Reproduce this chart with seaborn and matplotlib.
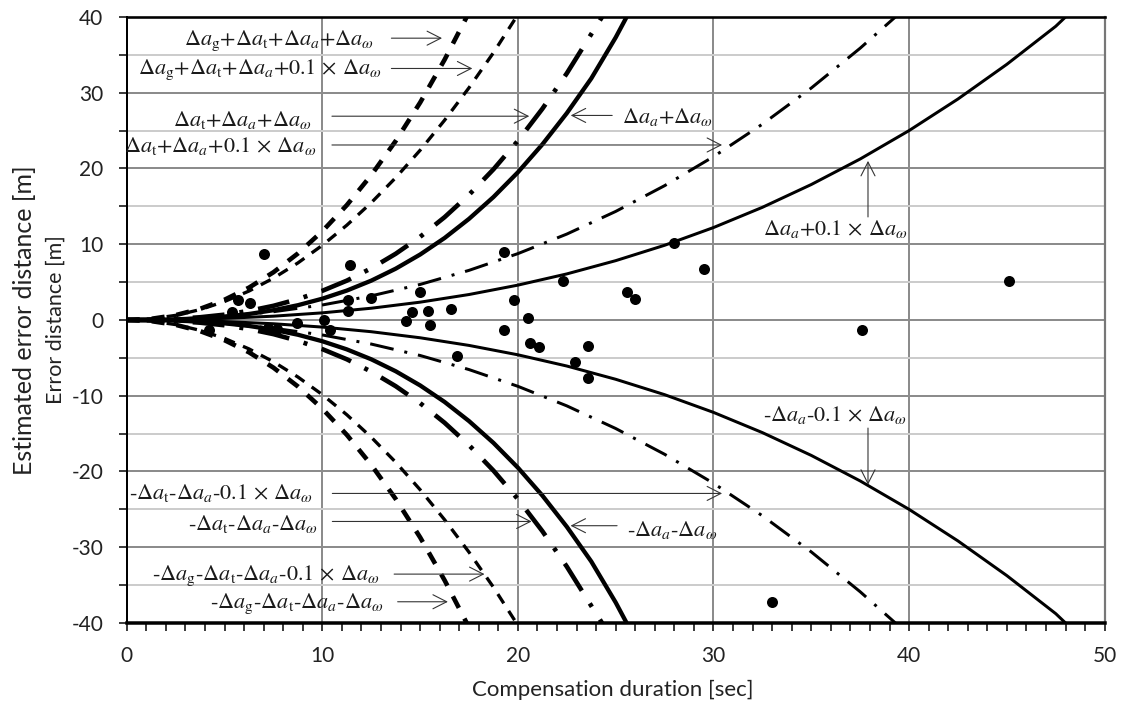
import matplotlib
matplotlib.use("Agg")
import matplotlib.pyplot as plt
import seaborn as sns
import pandas as pd
from matplotlib.ticker import MultipleLocator

# ---------------- data ----------------
# measured error distances: (duration [s], error [m])
meas_x = [4.2, 5.4, 5.7, 6.3, 7.0, 7.2, 7.7, 8.7, 10.1, 10.4, 11.3, 11.3, 11.4,
          12.5, 14.3, 14.6, 15.0, 15.4, 15.5, 16.6, 16.9, 19.3, 19.3, 19.8, 20.5,
          20.6, 21.1, 22.3, 22.9, 23.6, 23.6, 25.6, 26.0, 28.0, 29.5, 33.0, 37.6, 45.1]
meas_y = [-1.3, 1.0, 2.6, 2.3, 8.7, -1.1, -1.2, -0.4, 0.0, -1.3, 2.6, 1.2, 7.2,
          2.9, -0.1, 1.1, 3.7, 1.2, -0.7, 1.4, -4.7, 9.0, -1.3, 2.6, 0.2,
          -3.0, -3.6, 5.1, -5.5, -3.4, -7.7, 3.7, 2.8, 10.2, 6.7, -37.2, -1.3, 5.2]

# estimated error envelopes, upper branch
# Δag+Δat+Δaa+Δaω
gtaw_x = [0, 1.25, 2.5, 3.75, 5, 6.25, 7.5, 8.75, 10, 11.25, 12.5, 13.75, 15, 16.25, 17.38]
gtaw_y = [0, 0.15, 0.64, 1.47, 2.67, 4.27, 6.30, 8.78, 11.72, 15.16, 19.12, 23.63,
          28.70, 34.36, 40.0]
# Δag+Δat+Δaa+0.1Δaω
gta01w_x = [0, 1.25, 2.5, 3.75, 5, 6.25, 7.5, 8.75, 10, 11.25, 12.5, 13.75, 15,
            16.25, 17.5, 18.75, 19.92]
gta01w_y = [0, 0.15, 0.61, 1.37, 2.44, 3.82, 5.52, 7.53, 9.86, 12.51, 15.48, 18.78,
            22.41, 26.37, 30.66, 35.29, 40.0]
# Δat+Δaa+Δaω
taw_x = [0, 1.25, 2.5, 3.75, 5, 6.25, 7.5, 8.75, 10, 11.25, 12.5, 13.75, 15, 16.25,
         17.5, 18.75, 20, 21.25, 22.5, 23.75, 24.3]
taw_y = [0, 0.03, 0.14, 0.36, 0.70, 1.20, 1.87, 2.75, 3.85, 5.19, 6.82, 8.74, 10.98,
         13.57, 16.53, 19.89, 23.66, 27.88, 32.56, 37.74, 40.0]
# Δaa+Δaω
aw_x = [0, 1.25, 2.5, 3.75, 5, 6.25, 7.5, 8.75, 10, 11.25, 12.5, 13.75, 15, 16.25,
        17.5, 18.75, 20, 21.25, 22.5, 23.75, 25, 25.6]
aw_y = [0, 0.02, 0.08, 0.21, 0.44, 0.79, 1.29, 1.95, 2.81, 3.88, 5.19, 6.77, 8.64,
        10.82, 13.35, 16.23, 19.5, 23.18, 27.3, 31.88, 37.3, 40.2]
# Δat+Δaa+0.1Δaω
ta01w_x = [0, 2.5, 5, 7.5, 10, 12.5, 15, 17.5, 20, 22.5, 25, 27.5, 30, 32.5,
           35, 37.5, 39.3]
ta01w_y = [0, 0.11, 0.47, 1.09, 1.98, 3.18, 4.69, 6.55, 8.76, 11.34, 14.33,
           17.73, 21.56, 25.85, 30.62, 35.88, 40.0]
# Δaa+0.1Δaω
a01w_x = [0, 2.5, 5, 7.5, 10, 12.5, 15, 17.5, 20, 22.5, 25, 27.5, 30, 32.5,
          35, 37.5, 40, 42.5, 45, 47.5, 48.0]
a01w_y = [0, 0.05, 0.21, 0.50, 0.94, 1.55, 2.35, 3.36, 4.60, 6.08, 7.83, 9.86,
          12.2, 14.87, 17.88, 21.25, 25.0, 29.17, 33.75, 38.77, 40.0]

# lower branch (same durations)
gtaw_lo = [0, -0.15, -0.64, -1.47, -2.67, -4.27, -6.30, -8.78, -11.72, -15.16,
           -19.12, -23.63, -28.70, -34.36, -40.0]
gta01w_lo = [0, -0.15, -0.61, -1.37, -2.44, -3.82, -5.52, -7.53, -9.86, -12.51,
             -15.48, -18.78, -22.41, -26.37, -30.66, -35.29, -40.0]
taw_lo = [0, -0.03, -0.14, -0.36, -0.70, -1.20, -1.87, -2.75, -3.85, -5.19, -6.82,
          -8.74, -10.98, -13.57, -16.53, -19.89, -23.66, -27.88, -32.56, -37.74, -40.0]
aw_lo = [0, -0.02, -0.08, -0.21, -0.44, -0.79, -1.29, -1.95, -2.81, -3.88, -5.19,
         -6.77, -8.64, -10.82, -13.35, -16.23, -19.5, -23.18, -27.3, -31.88, -37.3, -40.2]
ta01w_lo = [0, -0.11, -0.47, -1.09, -1.98, -3.18, -4.69, -6.55, -8.76, -11.34,
            -14.33, -17.73, -21.56, -25.85, -30.62, -35.88, -40.0]
a01w_lo = [0, -0.05, -0.21, -0.50, -0.94, -1.55, -2.35, -3.36, -4.60, -6.08,
           -7.83, -9.86, -12.2, -14.87, -17.88, -21.25, -25.0, -29.17, -33.75,
           -38.77, -40.0]

x_ticks = [0, 10, 20, 30, 40, 50]
y_ticks = [-40, -30, -20, -10, 0, 10, 20, 30, 40]

# ---------------- style ----------------
sns.set_theme(style="white")
plt.rcParams["font.family"] = ["Lato", "DejaVu Sans"]
plt.rcParams["mathtext.fontset"] = "stix"
plt.rcParams["lines.scale_dashes"] = False
plt.rcParams["axes.unicode_minus"] = False

PX = 0.72  # points per pixel at dpi 100

fig = plt.figure(figsize=(11.21, 7.04), dpi=100)
ax = fig.add_axes([0.1131, 0.1151, 0.8723, 0.8608])

styles = {
    "thick_dash": dict(lw=4.6 * PX, linestyle=(0, (13 * PX, 12 * PX)), dash_capstyle="butt"),
    "thin_dash": dict(lw=3.3 * PX, linestyle=(0, (11 * PX, 9 * PX)), dash_capstyle="butt"),
    "thick_dashdot": dict(lw=4.6 * PX, linestyle=(0, (32 * PX, 15 * PX, 4 * PX, 15 * PX)),
                          dash_capstyle="butt"),
    "thin_dashdot": dict(lw=3.0 * PX, linestyle=(0, (24 * PX, 11 * PX, 3 * PX, 11 * PX)),
                         dash_capstyle="butt"),
    "thick_solid": dict(lw=4.3 * PX, linestyle="-"),
    "thin_solid": dict(lw=3.0 * PX, linestyle="-"),
}

curves = [
    (gtaw_x, gtaw_y, gtaw_lo, "thick_dash"),
    (gta01w_x, gta01w_y, gta01w_lo, "thin_dash"),
    (taw_x, taw_y, taw_lo, "thick_dashdot"),
    (aw_x, aw_y, aw_lo, "thick_solid"),
    (ta01w_x, ta01w_y, ta01w_lo, "thin_dashdot"),
    (a01w_x, a01w_y, a01w_lo, "thin_solid"),
]
for xs, yu, yl, st in curves:
    for ys in (yu, yl):
        df = pd.DataFrame({"t": xs, "e": ys})
        sns.lineplot(data=df, x="t", y="e", ax=ax, color="black", legend=False,
                     estimator=None, sort=False, zorder=3, **styles[st])

sns.scatterplot(x=meas_x, y=meas_y, ax=ax, color="black", s=63, linewidth=0,
                zorder=4, legend=False)

# ---------------- axes ----------------
ax.set_xlim(0, 50)
ax.set_ylim(-40, 40)
ax.set_xticks(x_ticks)
ax.set_yticks(y_ticks)
ax.xaxis.set_minor_locator(MultipleLocator(1))
ax.yaxis.set_minor_locator(MultipleLocator(5))
ax.set_axisbelow(True)
ax.xaxis.grid(True, which="major", color="#8c8c8c", lw=2 * PX)
ax.yaxis.grid(True, which="major", color="#8c8c8c", lw=2 * PX)
ax.yaxis.grid(True, which="minor", color="#cccccc", lw=2 * PX)
ax.tick_params(axis="both", which="both", direction="out", length=8 * PX,
               width=1.5 * PX, color="black", bottom=True, left=True)
ax.tick_params(axis="both", which="major", labelsize=15, pad=11, labelcolor="#222222")
ax.set_xlabel("")
ax.set_ylabel("")

for side, lw, col in (("bottom", 3.5, "black"), ("top", 2.6, "black"),
                      ("left", 2.0, "black"), ("right", 2.2, "#777777")):
    ax.spines[side].set_visible(True)
    ax.spines[side].set_linewidth(lw * PX)
    ax.spines[side].set_color(col)
    ax.spines[side].set_zorder(5)

fig.text(25 / 1121, 1 - 320 / 704, "Estimated error distance [m]", rotation=90,
         ha="center", va="center", fontsize=18, color="#222222")
fig.text(56 / 1121, 1 - 320 / 704, "Error distance [m]", rotation=90,
         ha="center", va="center", fontsize=15.5, color="#222222")
fig.text(613 / 1121, 1 - 690 / 704, "Compensation duration [sec]",
         ha="center", va="center", fontsize=16, color="#222222")

# ---------------- annotations ----------------
ann_kw = dict(fontsize=16, family="STIXGeneral", color="#1a1a1a", va="center", zorder=6)
arrow_kw = dict(arrowstyle="->,head_length=0.55,head_width=0.28", lw=1.1 * PX,
                color="#333333", shrinkA=0, shrinkB=0, mutation_scale=18)

TIMES = r"0.1$\,\times\,$"
labels = [
    (r"$\Delta a_{\rm g}$+$\Delta a_{\rm t}$+$\Delta a_{a}$+$\Delta a_{\omega}$",
     (12.62, 36.9), "right", (13.53, 37.2), (16.12, 37.2)),
    (r"$\Delta a_{\rm g}$+$\Delta a_{\rm t}$+$\Delta a_{a}$+" + TIMES + r"$\Delta a_{\omega}$",
     (13.04, 33.0), "right", (13.53, 33.2), (17.67, 33.2)),
    (r"$\Delta a_{\rm t}$+$\Delta a_{a}$+$\Delta a_{\omega}$",
     (9.44, 26.4), "right", (10.49, 26.9), (20.58, 26.9)),
    (r"$\Delta a_{\rm t}$+$\Delta a_{a}$+" + TIMES + r"$\Delta a_{\omega}$",
     (9.71, 22.9), "right", (10.49, 23.1), (30.44, 23.1)),
    (r"$\Delta a_{a}$+$\Delta a_{\omega}$",
     (25.31, 26.8), "left", (24.82, 27.0), (22.7, 27.0)),
    (r"$\Delta a_{a}$+" + TIMES + r"$\Delta a_{\omega}$",
     (36.2, 11.95), "center", (37.9, 13.6), (37.9, 21.0)),
    (r"-$\Delta a_{a}$-" + TIMES + r"$\Delta a_{\omega}$",
     (36.2, -12.5), "center", (37.9, -14.27), (37.9, -21.75)),
    (r"-$\Delta a_{a}$-$\Delta a_{\omega}$",
     (25.59, -27.7), "left", (25.07, -27.16), (22.69, -27.16)),
    (r"-$\Delta a_{\rm t}$-$\Delta a_{a}$-" + TIMES + r"$\Delta a_{\omega}$",
     (9.5, -22.8), "right", (10.51, -22.9), (30.44, -22.9)),
    (r"-$\Delta a_{\rm t}$-$\Delta a_{a}$-$\Delta a_{\omega}$",
     (9.78, -26.97), "right", (10.51, -26.6), (20.7, -26.6)),
    (r"-$\Delta a_{\rm g}$-$\Delta a_{\rm t}$-$\Delta a_{a}$-" + TIMES + r"$\Delta a_{\omega}$",
     (12.9, -33.8), "right", (13.67, -33.55), (18.29, -33.55)),
    (r"-$\Delta a_{\rm g}$-$\Delta a_{\rm t}$-$\Delta a_{a}$-$\Delta a_{\omega}$",
     (13.12, -37.5), "right", (13.85, -37.2), (16.42, -37.2)),
]
for txt, pos, ha, a0, a1 in labels:
    ax.text(pos[0], pos[1], txt, ha=ha, **ann_kw)
    ax.annotate("", xy=a1, xytext=a0, arrowprops=arrow_kw, zorder=6)

fig.savefig("out.png", dpi=100)
